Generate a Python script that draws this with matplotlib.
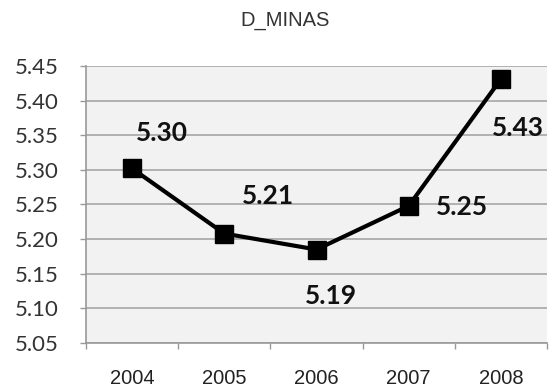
import matplotlib
matplotlib.use("Agg")
import matplotlib.pyplot as plt
import numpy as np

title = "D_MINAS"
years = ["2004", "2005", "2006", "2007", "2008"]
values = [5.302, 5.208, 5.185, 5.248, 5.431]
labels = ["5.30", "5.21", "5.19", "5.25", "5.43"]
yticks = [5.05, 5.10, 5.15, 5.20, 5.25, 5.30, 5.35, 5.40, 5.45]
label_offsets_px = [(30, -35.5), (43.5, -38), (14.5, 46.5), (53, 1.5), (17.5, 49)]

W, H, DPI = 549, 388, 100
fig = plt.figure(figsize=(W / DPI, H / DPI), dpi=DPI)
ax = fig.add_axes([86 / W, 1 - 343 / H, (547 - 86) / W, (343 - 66) / H])
ax.set_facecolor("#f2f2f2")

x = np.arange(len(years))
ax.plot(x, values, color="black", lw=3, marker="s", ms=13.5, mfc="black", mec="black", zorder=3)

for xi, v, lab, (dx, dy) in zip(x, values, labels, label_offsets_px):
    ax.annotate(lab, (xi, v), xytext=(dx * 0.72, -dy * 0.72), textcoords="offset points",
                ha="center", va="center", fontsize=19, fontweight="bold",
                family="Lato", color="#111111", zorder=4)

ax.set_xlim(-0.5, len(years) - 0.5)
ax.set_ylim(5.05, 5.45)
ax.set_yticks(yticks)
ax.set_yticklabels([f"{t:.2f}" for t in yticks], family="Lato", fontsize=16, color="#333333")
ax.set_xticks(x)
ax.set_xticklabels(years, family="Liberation Sans", fontsize=14.5, color="#222222")
ax.set_xticks(np.arange(len(years) + 1) - 0.5, minor=True)

ax.tick_params(axis="x", which="major", length=0, pad=19)
ax.tick_params(axis="x", which="minor", length=4, width=1, color="#999999")
ax.tick_params(axis="y", which="major", length=4, width=1, color="#999999", pad=16)

ax.grid(axis="y", color="#a6a6a6", lw=1.2)
ax.set_axisbelow(True)
for s in ["top", "right"]:
    ax.spines[s].set_visible(False)
for s in ["left", "bottom"]:
    ax.spines[s].set_color("#999999")
    ax.spines[s].set_linewidth(1.2)

fig.text((239 + 332) / 2 / W, 1 - 21 / H, title, ha="center", va="center",
         family="Liberation Sans", fontsize=14.5, color="#333333")

fig.savefig("out.png", dpi=DPI)
